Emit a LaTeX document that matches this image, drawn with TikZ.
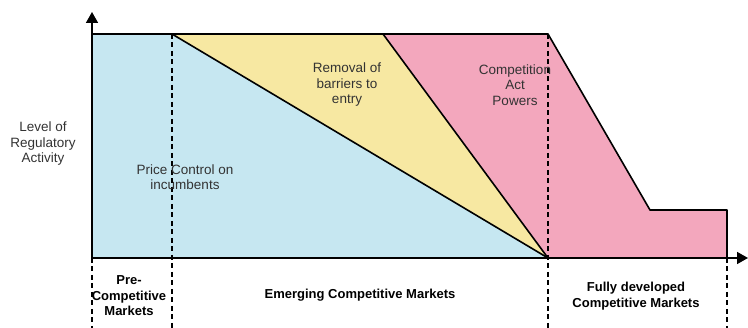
\documentclass[tikz,border=0pt]{standalone}
\usepackage{fontspec}
\setmainfont{Liberation Sans}
\usetikzlibrary{arrows.meta}

\definecolor{pcblue}{HTML}{C6E7F1}
\definecolor{rbyellow}{HTML}{F7E8A2}
\definecolor{capink}{HTML}{F3A7BD}

\tikzset{
	region/.style={draw=black, line width=1.6pt, line join=round},
	phase/.style={black, line width=1.7pt, dash pattern=on 5pt off 3.5pt},
	axis/.style={black, line width=1.7pt, -{Triangle[length=11pt,width=12pt]}},
	inlabel/.style={align=center, text=black!80, font=\fontsize{13.5}{15.5}\selectfont},
	mktlabel/.style={align=center, font=\bfseries\fontsize{13}{15.5}\selectfont},
}

\begin{document}
\begin{tikzpicture}[x=1pt, y=-1pt]% {{{ regulation
	\useasboundingbox (0,0) rectangle (748,328);

	\coordinate (O) at (92,258);
	\coordinate (ytop) at (92,12);
	\coordinate (xend) at (748,258);

	% shaded regions
	\fill[pcblue] (92,34) -- (172,34) -- (548,258) -- (92,258) -- cycle;
	\fill[rbyellow] (172,34) -- (383,34) -- (548,258) -- cycle;
	\fill[capink] (383,34) -- (548,34) -- (650,210) -- (727,210) -- (727,258) -- (548,258) -- cycle;

	\draw[region] (92,34) -- (548,34) -- (650,210) -- (727,210) -- (727,258);
	\draw[region] (172,34) -- (548,258);
	\draw[region] (383,34) -- (548,258);

	% phases
	\draw[phase] (92,258) -- (92,328);
	\draw[phase] (172,34) -- (172,328);
	\draw[phase] (548,34) -- (548,328);
	\draw[phase] (727,258) -- (727,328);

	% axes
	\draw[axis] (O) -- (ytop);
	\draw[axis] (O) -- (xend);

	\node[inlabel] (ylab) at (43,144) {Level of\\Regulatory\\Activity};
	\node[inlabel] (price) at (185,177) {Price Control on\\incumbents};
	\node[inlabel] (barriers) at (347,85) {Removal of\\barriers to\\entry};
	\node[inlabel] (powers) at (515,85) {Competition\\Act\\Powers};

	\node[mktlabel] (pre) at (129,296) {Pre-\\Competitive\\Markets};
	\node[mktlabel] (emerging) at (360,295) {Emerging Competitive Markets};
	\node[mktlabel] (fully) at (636,296) {Fully developed\\Competitive Markets};
\end{tikzpicture}
\end{document}
